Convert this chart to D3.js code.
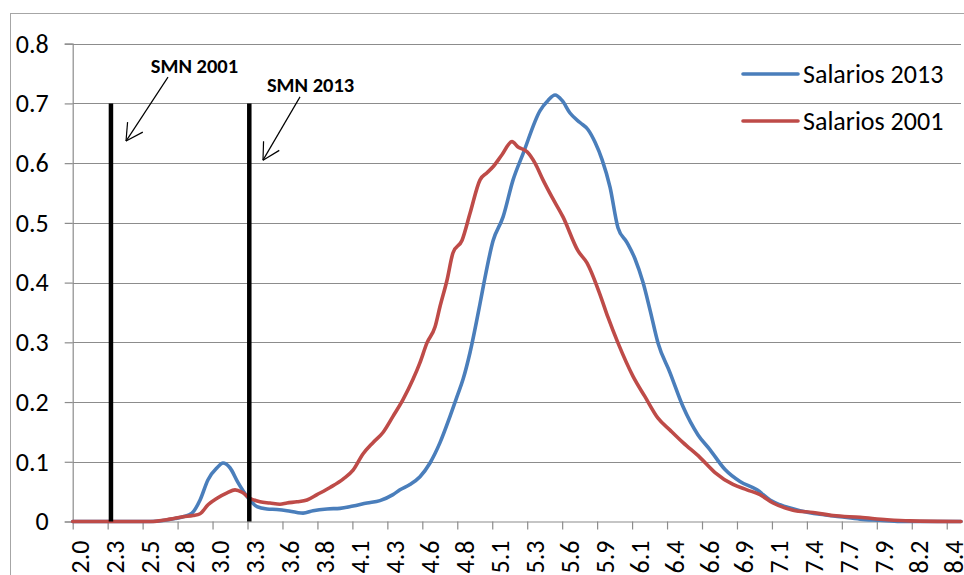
<!DOCTYPE html>
<html>
<head>
<meta charset="utf-8">
<script src="https://cdn.jsdelivr.net/npm/d3@7"></script>
<style>
  html, body { margin: 0; padding: 0; background: #fff; }
  svg { display: block; }
  text { font-family: Calibri, Carlito, Lato, sans-serif; fill: #000; }
</style>
</head>
<body>
<svg id="chart" width="964" height="575"></svg>
<script>
// ---- Data ----
const tickLabels = ["2.0","2.3","2.5","2.8","3.0","3.3","3.6","3.8","4.1","4.3","4.6","4.8","5.1","5.3","5.6","5.9","6.1","6.4","6.6","6.9","7.1","7.4","7.7","7.9","8.2","8.4"];
const tickStart = 2.02;
const tickStep = 0.255;
const yTicks = [0, 0.1, 0.2, 0.3, 0.4, 0.5, 0.6, 0.7, 0.8];
const yTickLabels = ["0","0.1","0.2","0.3","0.4","0.5","0.6","0.7","0.8"];

const seriesNames = ["Salarios 2013", "Salarios 2001"];

const salarios2013 = [
  [2.02,0],[2.584,0],[2.693,0.002],[2.766,0.005],[2.825,0.008],[2.890,0.014],[2.949,0.036],
  [3.007,0.070],[3.073,0.090],[3.116,0.098],[3.167,0.090],[3.226,0.065],[3.291,0.042],[3.364,0.025],
  [3.437,0.021],[3.510,0.020],[3.583,0.018],[3.656,0.015],[3.700,0.014],[3.773,0.018],[3.875,0.021],
  [3.970,0.022],[4.065,0.026],[4.167,0.031],[4.261,0.035],[4.356,0.045],[4.407,0.053],[4.480,0.062],
  [4.553,0.075],[4.626,0.098],[4.699,0.132],[4.772,0.176],[4.823,0.209],[4.867,0.238],[4.918,0.283],
  [4.991,0.365],[5.020,0.400],[5.086,0.470],[5.159,0.510],[5.232,0.572],[5.305,0.616],[5.429,0.688],
  [5.487,0.705],[5.538,0.714],[5.589,0.705],[5.647,0.684],[5.720,0.668],[5.779,0.656],[5.830,0.635],
  [5.881,0.606],[5.939,0.560],[5.997,0.492],[6.063,0.467],[6.121,0.440],[6.180,0.400],[6.231,0.354],
  [6.289,0.299],[6.377,0.249],[6.472,0.192],[6.581,0.145],[6.669,0.120],[6.778,0.087],[6.887,0.067],
  [7.011,0.053],[7.106,0.036],[7.179,0.028],[7.325,0.018],[7.471,0.012],[7.617,0.008],[7.763,0.004],
  [7.908,0.002],[8.054,0],[8.499,0]
];

const salarios2001 = [
  [2.02,0],[2.584,0],[2.730,0.004],[2.825,0.008],[2.898,0.010],[2.949,0.013],[3.007,0.028],
  [3.073,0.039],[3.146,0.048],[3.204,0.053],[3.255,0.049],[3.313,0.039],[3.386,0.033],[3.459,0.031],
  [3.532,0.029],[3.583,0.031],[3.656,0.033],[3.729,0.036],[3.802,0.045],[3.897,0.057],[3.992,0.071],
  [4.065,0.086],[4.137,0.113],[4.210,0.132],[4.283,0.149],[4.356,0.176],[4.429,0.204],[4.502,0.238],
  [4.553,0.266],[4.604,0.299],[4.663,0.326],[4.699,0.360],[4.750,0.404],[4.794,0.450],[4.860,0.471],
  [4.918,0.516],[4.991,0.572],[5.042,0.584],[5.086,0.594],[5.151,0.614],[5.224,0.636],[5.268,0.627],
  [5.334,0.619],[5.392,0.600],[5.450,0.572],[5.516,0.543],[5.596,0.510],[5.706,0.453],[5.771,0.433],
  [5.866,0.380],[5.924,0.342],[5.997,0.299],[6.107,0.243],[6.194,0.209],[6.289,0.173],[6.377,0.153],
  [6.472,0.132],[6.596,0.107],[6.705,0.082],[6.836,0.062],[6.938,0.053],[7.033,0.045],[7.128,0.031],
  [7.274,0.019],[7.420,0.015],[7.566,0.010],[7.763,0.007],[7.960,0.003],[8.127,0.001],[8.499,0]
];

// minimum wage markers: [x, top value]
const smnLines = [[2.299, 0.7], [3.308, 0.7]];
const smnLabels = ["SMN 2001", "SMN 2013"];
// annotation: text anchor (x,y), arrow tail (x,y), arrow head (x,y)
const smnText = [[2.908, 0.751], [3.755, 0.719]];
const smnArrowTail = [[2.715, 0.744], [3.678, 0.711]];
const smnArrowHead = [[2.409, 0.637], [3.408, 0.605]];

// ---- Layout ----
const svg = d3.select("#chart");
const W = 964, H = 575;
const plot = { left: 72.7, right: 961, top: 43.7, bottom: 521.5 };
const colors = ["#4A7EBB", "#BE4B48"];
const gridColor = "#8c8c8c";
const FONT = "Calibri, Carlito, Lato, sans-serif";

svg.append("rect").attr("width", W).attr("height", H).attr("fill", "#fff");
// outer chart border
svg.append("rect").attr("x", 10.5).attr("y", 13.5).attr("width", W).attr("height", H)
  .attr("fill", "none").attr("stroke", "#a6a6a6").attr("stroke-width", 1);

const x = d3.scaleLinear().domain([2.02, 8.499]).range([plot.left, plot.right]);
const y = d3.scaleLinear().domain([0, 0.8]).range([plot.bottom, plot.top]);

// gridlines
svg.append("g").selectAll("line").data(yTicks.filter(v => v > 0)).join("line")
  .attr("x1", plot.left).attr("x2", plot.right)
  .attr("y1", d => Math.round(y(d)) + 0.5).attr("y2", d => Math.round(y(d)) + 0.5)
  .attr("stroke", gridColor).attr("stroke-width", 1.2);

// y axis
const yAxis = d3.axisLeft(y).tickValues(yTicks).tickSize(8)
  .tickFormat((d, i) => yTickLabels[i]);
const gy = svg.append("g").attr("transform", `translate(${plot.left},0)`).call(yAxis);
gy.select(".domain").attr("stroke", gridColor).attr("stroke-width", 1.2);
gy.selectAll(".tick line").attr("stroke", gridColor).attr("stroke-width", 1.2);
gy.selectAll(".tick text").attr("x", -24).attr("font-size", 26)
  .style("font-family", FONT).attr("fill", "#000");

// x axis
const xTickVals = tickLabels.map((_, i) => tickStart + i * tickStep);
const xAxis = d3.axisBottom(x).tickValues(xTickVals).tickSize(8).tickFormat((d, i) => tickLabels[i]);
const gx = svg.append("g").attr("transform", `translate(0,${plot.bottom})`).call(xAxis);
gx.select(".domain").attr("d", `M${plot.left},0.5H${plot.right}`)
  .attr("stroke", gridColor).attr("stroke-width", 1.2);
gx.selectAll(".tick line").attr("stroke", gridColor).attr("stroke-width", 1.2);
gx.selectAll(".tick text")
  .attr("font-size", 26)
  .style("font-family", FONT)
  .attr("fill", "#000")
  .attr("text-anchor", "end")
  .attr("dy", null)
  .attr("y", 0)
  .attr("x", 0)
  .attr("transform", "translate(16,19) rotate(-90)");

// series lines
const line = d3.line().x(d => x(d[0])).y(d => y(d[1])).curve(d3.curveMonotoneX);
[salarios2013, salarios2001].forEach((s, i) => {
  svg.append("path").datum(s).attr("d", line)
    .attr("fill", "none").attr("stroke", colors[i]).attr("stroke-width", 3.6)
    .attr("stroke-linejoin", "round").attr("stroke-linecap", "round");
});

// SMN vertical lines
svg.append("g").selectAll("line").data(smnLines).join("line")
  .attr("x1", d => x(d[0])).attr("x2", d => x(d[0]))
  .attr("y1", y(0)).attr("y2", d => y(d[1]))
  .attr("stroke", "#000").attr("stroke-width", 4.5);

// annotations
smnLabels.forEach((lab, i) => {
  svg.append("text").attr("x", x(smnText[i][0])).attr("y", y(smnText[i][1]))
    .attr("text-anchor", "middle").attr("font-size", 20.5).attr("font-weight", "bold")
    .text(lab);
  const tx = x(smnArrowTail[i][0]), ty = y(smnArrowTail[i][1]);
  const hx = x(smnArrowHead[i][0]), hy = y(smnArrowHead[i][1]);
  svg.append("line").attr("x1", tx).attr("y1", ty).attr("x2", hx).attr("y2", hy)
    .attr("stroke", "#000").attr("stroke-width", 1.2);
  const ang = Math.atan2(ty - hy, tx - hx);
  const len = 19, spread = 0.5;
  [ang - spread, ang + spread].forEach(a => {
    svg.append("line").attr("x1", hx).attr("y1", hy)
      .attr("x2", hx + len * Math.cos(a)).attr("y2", hy + len * Math.sin(a))
      .attr("stroke", "#000").attr("stroke-width", 1.2);
  });
});

// legend
const legend = svg.append("g").attr("transform", "translate(743,74)");
seriesNames.forEach((n, i) => {
  const g = legend.append("g").attr("transform", `translate(0,${i * 47})`);
  g.append("line").attr("x1", 0).attr("x2", 55).attr("y1", 0).attr("y2", 0)
    .attr("stroke", colors[i]).attr("stroke-width", 3.6).attr("stroke-linecap", "round");
  g.append("text").attr("x", 60).attr("y", 9).attr("font-size", 26).text(n);
});
</script>
</body>
</html>
